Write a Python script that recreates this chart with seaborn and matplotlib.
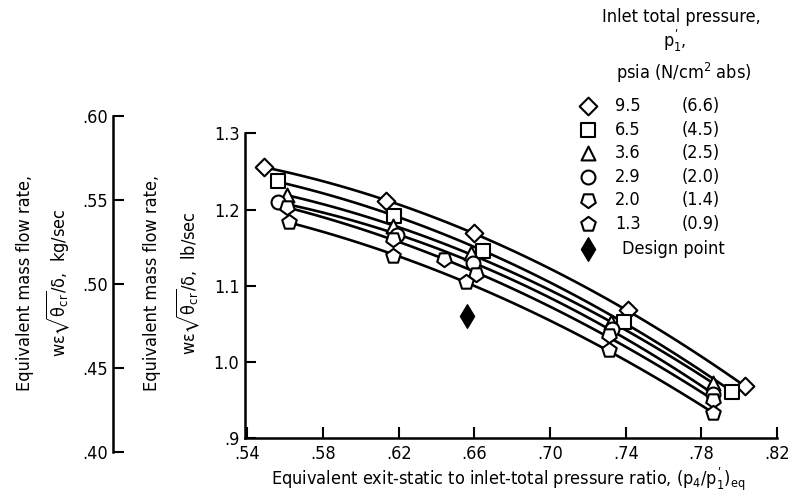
import numpy as np
import pandas as pd
import seaborn as sns
import matplotlib.pyplot as plt

# ---------------- data ----------------
x_95 = [0.549, 0.613, 0.660, 0.741, 0.803]
y_95 = [1.256, 1.211, 1.169, 1.068, 0.968]
x_65 = [0.556, 0.6175, 0.6645, 0.739, 0.796]
y_65 = [1.237, 1.191, 1.146, 1.053, 0.961]
x_36 = [0.561, 0.617, 0.658, 0.732, 0.786]
y_36 = [1.219, 1.178, 1.143, 1.052, 0.973]
x_29 = [0.556, 0.619, 0.659, 0.7326, 0.786]
y_29 = [1.210, 1.167, 1.130, 1.043, 0.958]
x_20 = [0.561, 0.617, 0.644, 0.661, 0.731, 0.786]
y_20 = [1.203, 1.161, 1.135, 1.115, 1.035, 0.950]
x_13 = [0.562, 0.617, 0.6556, 0.731, 0.786]
y_13 = [1.184, 1.139, 1.105, 1.016, 0.933]
design_x = [0.656]
design_y = [1.061]

psia_labels = ["9.5", "6.5", "3.6", "2.9", "2.0", "1.3"]
ncm2_labels = ["(6.6)", "(4.5)", "(2.5)", "(2.0)", "(1.4)", "(0.9)"]
x_ticks = [0.54, 0.58, 0.62, 0.66, 0.70, 0.74, 0.78, 0.82]
x_tick_labels = [".54", ".58", ".62", ".66", ".70", ".74", ".78", ".82"]
y_ticks = [0.9, 1.0, 1.1, 1.2, 1.3]
y_tick_labels = [".9", "1.0", "1.1", "1.2", "1.3"]
kg_ticks = [0.40, 0.45, 0.50, 0.55, 0.60]
kg_tick_labels = [".40", ".45", ".50", ".55", ".60"]
LB_TO_KG = 0.453592

series_x = [x_95, x_65, x_36, x_29, x_20, x_13]
series_y = [y_95, y_65, y_36, y_29, y_20, y_13]
markers = ["D", "s", "^", "o", (5, 0, 180), "p"]
msizes = [9, 10, 10, 10, 11, 11]

# ---------------- style ----------------
sns.set_theme(style="white")
plt.rcParams["font.family"] = ["DejaVu Sans Condensed", "DejaVu Sans"]
plt.rcParams["font.stretch"] = "condensed"
plt.rcParams["mathtext.fontset"] = "custom"
plt.rcParams["mathtext.rm"] = "DejaVu Sans"
plt.rcParams["mathtext.it"] = "DejaVu Sans"
plt.rcParams["mathtext.bf"] = "DejaVu Sans:bold"
plt.rcParams["mathtext.fallback"] = "stix"
plt.rcParams["text.color"] = "black"
plt.rcParams["axes.labelcolor"] = "black"
plt.rcParams["xtick.color"] = "black"
plt.rcParams["ytick.color"] = "black"

FS = 13
W, H = 793, 504
fig = plt.figure(figsize=(W / 100, H / 100), dpi=100)
fig.patch.set_facecolor("white")

def fy(py):
    return 1 - py / H

# main axes
left_px, right_px, bot_px, top_px = 245, 777, 438.3, 133.3
main_b = fy(bot_px)
main_h = (bot_px - top_px) / H
ax = fig.add_axes([left_px / W, main_b, (right_px - left_px) / W, main_h])
ax.set_facecolor("none")

for xs, ys in zip(series_x, series_y):
    coef = np.polyfit(xs, ys, 2)
    xf = np.linspace(min(xs), max(xs), 100)
    df_line = pd.DataFrame({"x": xf, "y": np.polyval(coef, xf)})
    sns.lineplot(data=df_line, x="x", y="y", color="black", linewidth=1.9,
                 ax=ax, zorder=2)
for xs, ys, mk, ms in zip(series_x, series_y, markers, msizes):
    df_pts = pd.DataFrame({"x": xs, "y": ys})
    sns.scatterplot(data=df_pts, x="x", y="y", marker=mk, s=ms ** 2,
                    facecolor="white", edgecolor="black", linewidth=1.5,
                    ax=ax, zorder=3)
sns.scatterplot(x=design_x, y=design_y, marker="d", s=12 ** 2, color="black",
                edgecolor="black", linewidth=1, ax=ax, zorder=4)

ax.set_xlim(0.5387, 0.82)
ax.set_ylim(0.9, 1.3)
ax.set_xticks(x_ticks)
ax.set_xticklabels(x_tick_labels)
ax.set_yticks(y_ticks)
ax.set_yticklabels(y_tick_labels)
ax.set_xlabel("")
ax.set_ylabel("")
for s in ["top", "right"]:
    ax.spines[s].set_visible(False)
for s in ["left", "bottom"]:
    ax.spines[s].set_color("black")
    ax.spines[s].set_linewidth(1.8)
ax.tick_params(axis="x", direction="in", length=8, width=1.5,
               colors="black", labelsize=FS, pad=5, bottom=True)
ax.tick_params(axis="y", direction="in", length=8, width=1.5,
               colors="black", labelsize=FS, pad=4, left=True)

# secondary (kg/sec) axis
kg_b = main_b + (kg_ticks[0] / LB_TO_KG - 0.9) / 0.4 * main_h
kg_h = ((kg_ticks[-1] - kg_ticks[0]) / LB_TO_KG) / 0.4 * main_h
ax2 = fig.add_axes([113.3 / W, kg_b, 0.0001, kg_h])
ax2.set_facecolor("none")
ax2.set_ylim(kg_ticks[0], kg_ticks[-1])
ax2.set_yticks(kg_ticks)
ax2.set_yticklabels(kg_tick_labels)
ax2.set_xticks([])
for s in ["top", "right", "bottom"]:
    ax2.spines[s].set_visible(False)
ax2.spines["left"].set_color("black")
ax2.spines["left"].set_linewidth(1.8)
ax2.tick_params(axis="y", direction="in", length=8, width=1.5, colors="black",
                labelsize=FS, pad=4, left=True)

# axis labels
ylab2 = r"w$\epsilon\sqrt{\theta_{cr}}/\delta$,  "
fig.text(25 / W, fy(283), "Equivalent mass flow rate,", rotation=90,
         ha="center", va="center", fontsize=FS)
fig.text(58 / W, fy(283), ylab2 + "kg/sec", rotation=90,
         ha="center", va="center", fontsize=FS)
fig.text(152 / W, fy(283), "Equivalent mass flow rate,", rotation=90,
         ha="center", va="center", fontsize=FS)
fig.text(188 / W, fy(283), ylab2 + "lb/sec", rotation=90,
         ha="center", va="center", fontsize=FS)
fig.text(508 / W, fy(479),
         "Equivalent exit-static to inlet-total pressure ratio, $(p_4/p_1^{\u02b9})_{eq}$",
         ha="center", va="center", fontsize=FS)

# legend (manual)
ov = fig.add_axes([0, 0, 1, 1])
ov.set_xlim(0, W)
ov.set_ylim(H, 0)
ov.axis("off")
fig.text(681 / W, fy(17), "Inlet total pressure,", ha="center", va="center",
         fontsize=FS)
fig.text(675 / W, fy(41), "$p_1^{\u02b9}$,", ha="center", va="center",
         fontsize=FS)
fig.text(684 / W, fy(73), r"psia (N/cm$^2$ abs)", ha="center", va="center",
         fontsize=FS)
rows = [106, 130, 153, 177, 200, 224]
for ry, mk, ms, lab, lab2 in zip(rows, markers, msizes, psia_labels, ncm2_labels):
    ov.scatter([588], [ry], marker=mk, s=ms ** 2, facecolor="white",
               edgecolor="black", linewidth=1.5)
    fig.text(615 / W, fy(ry), lab, ha="left", va="center", fontsize=FS)
    fig.text(682 / W, fy(ry), lab2, ha="left", va="center", fontsize=FS)
ov.scatter([588], [249], marker="d", s=12 ** 2, color="black")
fig.text(622 / W, fy(249), "Design point", ha="left", va="center", fontsize=FS)

fig.savefig("out.png", dpi=100, facecolor="white")
